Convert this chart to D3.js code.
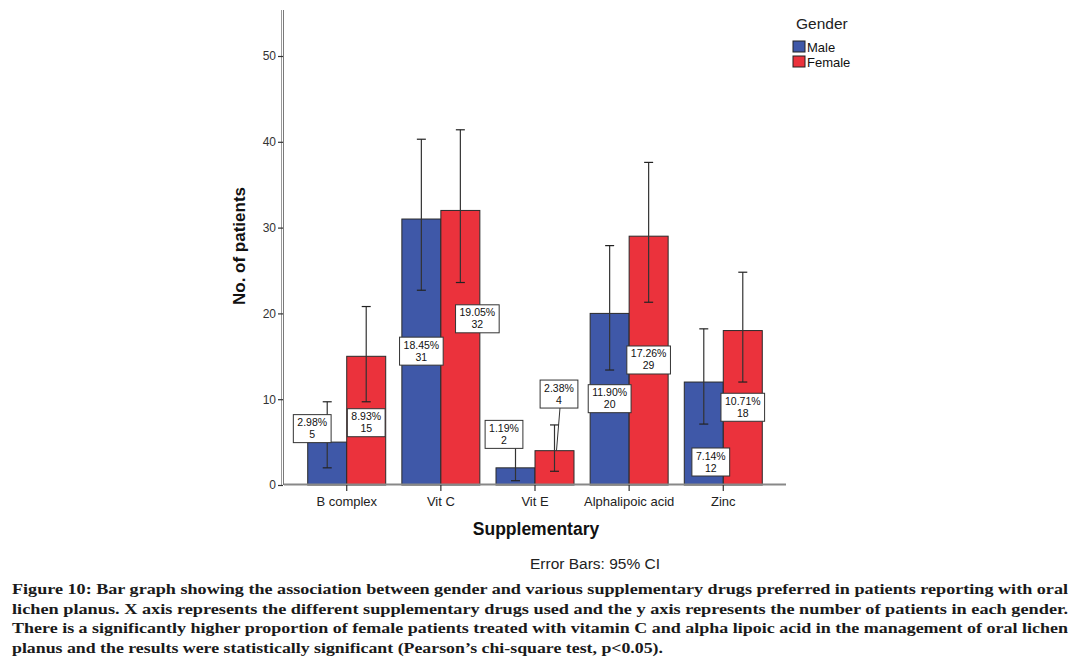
<!DOCTYPE html>
<html>
<head>
<meta charset="utf-8">
<script src="https://cdn.jsdelivr.net/npm/d3@7"></script>
<style>
  html, body { margin: 0; padding: 0; background: #fff; }
  svg { display: block; }
</style>
</head>
<body>
<svg id="chart" width="1081" height="668"></svg>
<script>
// ---- data ----
const categories = ["B complex", "Vit C", "Vit E", "Alphalipoic acid", "Zinc"];
const genders = ["Male", "Female"];
const maleCounts = [5, 31, 2, 20, 12];
const femaleCounts = [15, 32, 4, 29, 18];
const malePercents = ["2.98%", "18.45%", "1.19%", "11.90%", "7.14%"];
const femalePercents = ["8.93%", "19.05%", "2.38%", "17.26%", "10.71%"];
const maleCILow = [2.0, 22.7, 0.5, 13.4, 7.1];
const maleCIHigh = [9.7, 40.3, 4.8, 27.9, 18.2];
const femaleCILow = [9.7, 23.6, 1.6, 21.3, 12.0];
const femaleCIHigh = [20.8, 41.4, 7.0, 37.6, 24.8];
const yTicks = [0, 10, 20, 30, 40, 50];
const captionLines = [
  "Figure 10: Bar graph showing the association between gender and various supplementary drugs preferred in patients reporting with oral",
  "lichen planus. X axis represents the different supplementary drugs used and the y axis represents the number of patients in each gender.",
  "There is a significantly higher proportion of female patients treated with vitamin C and alpha lipoic acid in the management of oral lichen",
  "planus and the results were statistically significant (Pearson\u2019s chi-square test, p<0.05)."
];

// ---- label layout (separate from data): [dx px, label centre in value units, leader] ----
const maleLabelLayout = [[-15, 6.57, false], [0, 15.6, false], [-11.5, 5.9, false], [0, 10.06, false], [7, 2.68, false]];
const femaleLabelLayout = [[0, 7.26, false], [17, 19.37, false], [4.5, 10.6, true], [0, 14.57, false], [0, 9.06, false]];

const colors = { Male: "#3f58a8", Female: "#eb323c" };
const SANS = "Arial, 'Liberation Sans', sans-serif";

const svg = d3.select("#chart");
const x0 = 284, x1 = 786, yBottom = 485, yTop = 10;

const x = d3.scaleBand().domain(categories).range([x0, x1])
  .paddingInner(0.1715).paddingOuter(0.252);
const xs = d3.scaleBand().domain(genders).range([0, x.bandwidth()]).padding(0);
const y = d3.scaleLinear().domain([0, (yBottom - yTop) / 8.58]).range([yBottom, yTop]);

const rows = [];
categories.forEach((c, i) => {
  rows.push({ cat: c, g: "Male", v: maleCounts[i], pct: malePercents[i], lo: maleCILow[i], hi: maleCIHigh[i], lay: maleLabelLayout[i] });
  rows.push({ cat: c, g: "Female", v: femaleCounts[i], pct: femalePercents[i], lo: femaleCILow[i], hi: femaleCIHigh[i], lay: femaleLabelLayout[i] });
});
const cx = d => x(d.cat) + xs(d.g) + xs.bandwidth() / 2;

// axes frame
svg.append("line").attr("x1", 281.5).attr("x2", 281.5).attr("y1", yTop).attr("y2", yBottom).attr("stroke", "#9a9a9a").attr("stroke-width", 1);
svg.append("line").attr("x1", 283.5).attr("x2", 283.5).attr("y1", yTop).attr("y2", yBottom).attr("stroke", "#7a7a7a").attr("stroke-width", 1);

// y axis
const yAxis = d3.axisLeft(y).tickValues(yTicks).tickSize(5).tickPadding(2).tickFormat(d3.format("d"));
const gy = svg.append("g").attr("transform", "translate(283,0)").call(yAxis);
gy.select(".domain").remove();
gy.selectAll(".tick line").attr("stroke", "#333").attr("stroke-width", 1.2);
gy.selectAll(".tick text").attr("font-family", SANS).attr("font-size", 12).attr("fill", "#333");

// bars
svg.append("g").selectAll("rect").data(rows).join("rect")
  .attr("x", d => x(d.cat) + xs(d.g))
  .attr("y", d => y(d.v))
  .attr("width", xs.bandwidth())
  .attr("height", d => y(0) - y(d.v))
  .attr("fill", d => colors[d.g])
  .attr("stroke", "#2a2a2a")
  .attr("stroke-width", 1);

// x axis line + ticks
svg.append("line").attr("x1", x0).attr("x2", x1).attr("y1", 484.5).attr("y2", 484.5).attr("stroke", "#888").attr("stroke-width", 2);
const xAxis = d3.axisBottom(x).tickSize(6).tickPadding(6);
const gx = svg.append("g").attr("transform", "translate(0,485)").call(xAxis);
gx.select(".domain").remove();
gx.selectAll(".tick line").attr("stroke", "#333").attr("stroke-width", 1.2);
gx.selectAll(".tick text").attr("font-family", SANS).attr("font-size", 13).attr("fill", "#222");

// error bars
const eb = svg.append("g").attr("stroke", "#222").attr("stroke-width", 1.2).attr("fill", "none");
rows.forEach(d => {
  const c = cx(d);
  eb.append("line").attr("x1", c).attr("x2", c).attr("y1", y(d.lo)).attr("y2", y(d.hi)).attr("stroke", "#333");
  eb.append("line").attr("x1", c - 4.5).attr("x2", c + 4.5).attr("y1", y(d.lo)).attr("y2", y(d.lo));
  eb.append("line").attr("x1", c - 4.5).attr("x2", c + 4.5).attr("y1", y(d.hi)).attr("y2", y(d.hi));
});

// value labels
const lg = svg.append("g");
rows.forEach(d => {
  const lx = cx(d) + d.lay[0];
  const ly = y(d.lay[1]);
  const g = lg.append("g");
  const t1 = g.append("text").attr("x", lx).attr("y", ly - 2.5).attr("text-anchor", "middle")
    .attr("font-family", SANS).attr("font-size", 10.5).attr("fill", "#111").text(d.pct);
  g.append("text").attr("x", lx).attr("y", ly + 9.5).attr("text-anchor", "middle")
    .attr("font-family", SANS).attr("font-size", 10.5).attr("fill", "#111").text(d.v);
  const w = t1.node().getComputedTextLength() + 8;
  const h = 28;
  if (d.lay[2]) {
    lg.insert("line", ":first-child").attr("x1", lx + 1).attr("y1", ly + h / 2).attr("x2", cx(d) + 2).attr("y2", y(d.v))
      .attr("stroke", "#333").attr("stroke-width", 1);
  }
  g.insert("rect", ":first-child").attr("x", lx - w / 2).attr("y", ly - h / 2).attr("width", w).attr("height", h)
    .attr("fill", "#fff").attr("stroke", "#333").attr("stroke-width", 1);
});

// axis titles
svg.append("text").attr("transform", "translate(245,246) rotate(-90)").attr("text-anchor", "middle")
  .attr("font-family", SANS).attr("font-weight", "bold").attr("font-size", 17).attr("fill", "#111")
  .text("No. of patients");
svg.append("text").attr("x", 536).attr("y", 535).attr("text-anchor", "middle")
  .attr("font-family", SANS).attr("font-weight", "bold").attr("font-size", 17.5).attr("fill", "#111")
  .text("Supplementary");
svg.append("text").attr("x", 595).attr("y", 569).attr("text-anchor", "middle")
  .attr("font-family", SANS).attr("font-size", 15.5).attr("fill", "#222")
  .text("Error Bars: 95% CI");

// legend
svg.append("text").attr("x", 796).attr("y", 29).attr("font-family", SANS)
  .attr("font-size", 15.5).attr("fill", "#222").text("Gender");
const leg = svg.append("g").selectAll("g").data(genders).join("g")
  .attr("transform", (d, i) => `translate(793,${41 + i * 15})`);
leg.append("rect").attr("width", 12).attr("height", 11).attr("fill", d => colors[d]).attr("stroke", "#222").attr("stroke-width", 1);
leg.append("text").attr("x", 14).attr("y", 10.5).attr("font-family", SANS)
  .attr("font-size", 13).attr("fill", "#111").text(d => d);

// caption
const capLengths = [1056, 1056, 1056, 651];
svg.append("g").selectAll("text").data(captionLines).join("text")
  .attr("x", 12).attr("y", (d, i) => 594 + i * 19.5)
  .attr("font-family", "'Liberation Serif', 'DejaVu Serif', serif").attr("font-weight", "bold")
  .attr("font-size", 15.5).attr("fill", "#1a1a1a")
  .attr("textLength", (d, i) => capLengths[i]).attr("lengthAdjust", "spacingAndGlyphs")
  .text(d => d);
</script>
</body>
</html>
